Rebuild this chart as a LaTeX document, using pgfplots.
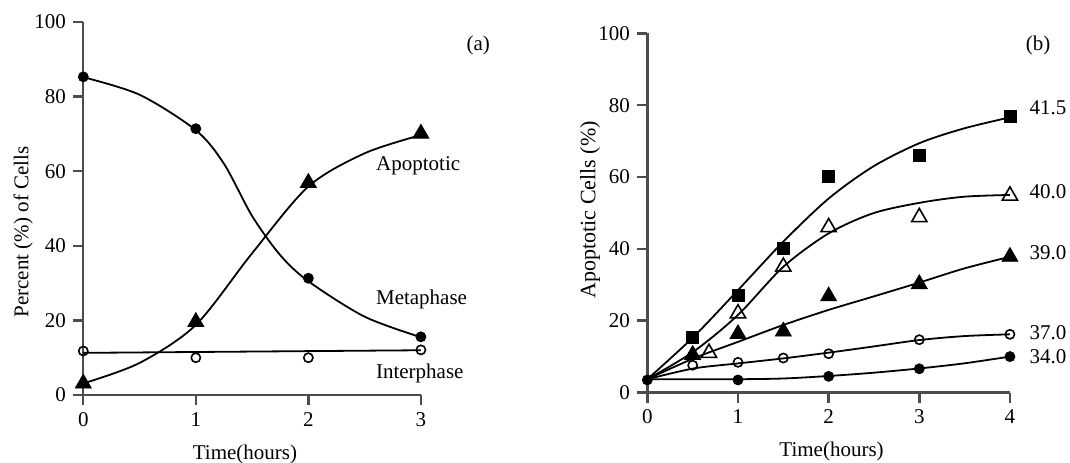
\documentclass[border=0pt]{standalone}
\usepackage{fontspec}
\setmainfont{Liberation Serif}
\usepackage{pgfplots}
\pgfplotsset{compat=1.18}
\begin{document}
\fontsize{10.5}{12}\selectfont
\begin{tikzpicture}
\useasboundingbox (0,0) rectangle (535pt,-231pt);
\pgfplotsset{
  myaxis/.style={
    scale only axis, axis lines=left,
    axis line style={-, black!70, line width=1.2pt},
    tick align=outside, major tick length=5pt,
    tick style={black!70, line width=1.2pt},
    enlargelimits=false, clip=false,
    /pgf/number format/assume math mode=true,
    ticklabel style={font=\fontsize{10.5}{12}\selectfont},
    label style={font=\fontsize{10.5}{12}\selectfont},
    ymin=0, ymax=100, ytick={0,20,...,100},
  },
  curve/.style={black, line width=0.9pt, smooth, no marks},
  fc/.style={only marks, mark=*, mark size=2.5pt, black},
  oc/.style={only marks, mark=o, mark size=2.3pt, black, line width=0.8pt, mark options={fill=white}},
  ft/.style={only marks, mark=triangle*, mark size=4.6pt, black},
  ot/.style={only marks, mark=triangle, mark size=4.4pt, black, line width=0.8pt, mark options={fill=white}},
  fs/.style={only marks, mark=square*, mark size=3pt, black},
}
% ---------------- Panel (a)
\begin{axis}[myaxis,
  at={(41.65pt,-197.5pt)}, anchor=south west,
  width=168.8pt, height=186.5pt,
  xmin=0, xmax=3, xtick={0,1,2,3},
  xlabel={Time(hours)}, ylabel={Percent (\%) of Cells},
  xlabel style={at={(axis description cs:0.479,-0.16)}, anchor=center},
  ylabel style={at={(axis description cs:-0.178,0.437)}, anchor=center, rotate=0},
]
% Metaphase curve
\addplot[curve] coordinates {(0,85.2) (0.5,80.5) (1,71) (1.25,62) (1.5,48) (1.75,37.5) (2,30.5) (2.5,21) (3,15.5)};
% Apoptotic curve
\addplot[curve] coordinates {(0,3.1) (0.5,8.6) (1,18.8) (1.5,38) (2,55.9) (2.5,64.8) (3,69.7)};
% Interphase line
\addplot[black, line width=0.9pt, no marks] coordinates {(0,11.3) (3,12)};
% data
\addplot[fc] coordinates {(0,85.3) (1,71.4) (2,31.3) (3,15.6)};
\addplot[ft] coordinates {(0,3.1) (1,19.6) (2,56.9) (3,70.1)};
\addplot[oc] coordinates {(0,11.8) (1,10.0) (2,10.0) (3,12.1)};
\node at (axis cs:2.976,61.5) {Apoptotic};
\node at (axis cs:3.006,25.5) {Metaphase};
\node at (axis cs:2.99,5.8) {Interphase};
\node at (axis cs:3.51,93.8) {(a)};
\end{axis}
% ---------------- Panel (b)
\begin{axis}[myaxis,
  at={(323.67pt,-196.25pt)}, anchor=south west,
  width=181.3pt, height=179.6pt,
  xmin=0, xmax=4, xtick={0,1,2,3,4},
  xlabel={Time(hours)}, ylabel={Apoptotic Cells (\%)},
  xlabel style={at={(axis description cs:0.508,-0.165)}, anchor=center},
  ylabel style={at={(axis description cs:-0.158,0.509)}, anchor=center, font=\fontsize{11}{13}\selectfont},
]
% curves
\addplot[curve] coordinates {(0,3.7) (0.51,15.5) (1,28.5) (1.5,42) (2,54) (2.49,62.9) (3,69.4) (3.49,73.5) (4,76.6)};
\addplot[curve] coordinates {(0,3.7) (0.51,11.4) (1,21.6) (1.5,35) (2,44.3) (2.49,49.9) (3,52.8) (3.49,54.5) (4,55)};
\addplot[curve] coordinates {(0,3.7) (0.51,9.5) (1,14.1) (1.5,18.8) (2,23) (2.49,26.7) (3,30.6) (3.49,34.5) (4,37.8)};
\addplot[curve] coordinates {(0,3.7) (0.51,6.7) (1,8.1) (1.5,9.5) (2,11.1) (2.49,12.8) (3,14.6) (3.49,15.7) (4,16.2)};
\addplot[curve] coordinates {(0,3.7) (0.51,3.7) (1,3.7) (1.5,3.9) (2,4.6) (2.49,5.5) (3,6.7) (3.49,8.1) (4,10)};
% data
\addplot[fs] coordinates {(0.5,15.4) (1,26.9) (1.5,40.1) (2,60.1) (3,66.1) (4,76.8)};
\addplot[ot] coordinates {(0.68,11) (1,22) (1.5,35) (2,46) (3,48.8) (4,54.8)};
\addplot[ft] coordinates {(0.5,10.5) (1,16.3) (1.5,17) (2,26.8) (3,30.2) (4,37.8)};
\addplot[oc] coordinates {(0.5,7.6) (1,8.4) (1.5,9.6) (2,10.8) (3,14.7) (4,16.2)};
\addplot[fc] coordinates {(0,3.5) (1,3.5) (2,4.5) (3,6.6) (4,10)};
\node at (axis cs:4.42,79.2) {41.5};
\node at (axis cs:4.42,55.8) {40.0};
\node at (axis cs:4.42,38.9) {39.0};
\node at (axis cs:4.42,16.6) {37.0};
\node at (axis cs:4.42,10.0) {34.0};
\node at (axis cs:4.31,96.7) {(b)};
\end{axis}
\end{tikzpicture}
\end{document}
